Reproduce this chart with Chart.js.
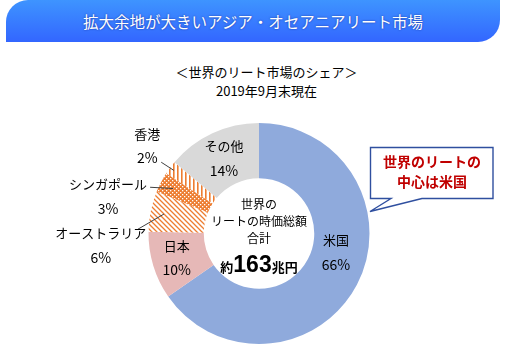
<!DOCTYPE html>
<html><head><meta charset="utf-8">
<script src="https://cdn.jsdelivr.net/npm/chart.js@4/dist/chart.umd.min.js"></script>
<style>
html,body{margin:0;padding:0;background:#fff;}
#wrap{position:relative;width:513px;height:362px;overflow:hidden;font-family:"Noto Sans CJK JP","Noto Sans",sans-serif;}
#banner{position:absolute;left:6px;top:0;width:494px;height:42px;border-radius:22px 0 22px 0;background:linear-gradient(#3e94ff,#3366ff);color:#fff;font-size:15.5px;line-height:42px;text-align:center;text-shadow:0 0 2px rgba(0,0,90,0.6);}
#chart{position:absolute;left:0;top:0;}
.t{position:absolute;white-space:nowrap;color:#000;text-align:center;}
#sub1{left:0;width:533px;top:63px;font-size:13px;line-height:18px;}
#sub2{left:0;width:533px;top:82px;font-size:13px;line-height:18px;}
#ctr{position:absolute;left:200px;width:118px;top:195px;text-align:center;font-size:12px;line-height:17px;color:#000;}
#ctr .big{font-family:"Liberation Sans","DejaVu Sans",sans-serif;font-weight:bold;font-size:23px;}
#ctr .sm{font-weight:bold;font-size:13px;}
#callsvg{position:absolute;left:0;top:0;}
#call{position:absolute;left:371px;width:122px;top:151px;text-align:center;color:#c00000;font-weight:bold;font-size:14px;line-height:20px;}
</style></head>
<body>
<div id="wrap">
<div id="banner">拡大余地が大きいアジア・オセアニアリート市場</div>
<div class="t" id="sub1">＜世界のリート市場のシェア＞</div>
<div class="t" id="sub2">2019年9月末現在</div>
<canvas id="chart" width="513" height="362"></canvas>
<div id="ctr">世界の<br>リートの時価総額<br>合計<div style="margin-top:6px;line-height:24px"><span class="sm">約</span><span class="big">163</span><span class="sm">兆円</span></div></div>
<svg id="callsvg" width="513" height="362"><path d="M370.5 147.5 H493 V198.5 H422 L370 211.5 L391 198.5 H370.5 Z" fill="#fff" stroke="#2f4f9f" stroke-width="1.4"/></svg>
<div id="call">世界のリートの<br>中心は米国</div>
</div>
<script>
const categories = ["米国", "日本", "オーストラリア", "シンガポール", "香港", "その他"];
const shares = [66, 10, 6, 3, 2, 14];
const shareLabels = ["66%", "10%", "6%", "3%", "2%", "14%"];

const ORANGE = '#ed7d31';
function pattern(kind){
  const c = document.createElement('canvas');
  const g = c.getContext('2d');
  if (kind === 'diag') {
    c.width = c.height = 5;
    g.fillStyle = '#fff'; g.fillRect(0,0,5,5);
    g.strokeStyle = ORANGE; g.lineWidth = 1.3;
    g.beginPath();
    g.moveTo(-1,-1); g.lineTo(6,6);
    g.moveTo(-6,-1); g.lineTo(1,6);
    g.moveTo(4,-1); g.lineTo(11,6);
    g.stroke();
  } else if (kind === 'dots') {
    c.width = c.height = 4;
    g.fillStyle = ORANGE; g.fillRect(0,0,4,4);
    g.fillStyle = '#fff';
    g.fillRect(0,0,1.3,1.3);
    g.fillRect(2,2,1.3,1.3);
  } else {
    c.width = c.height = 4;
    g.fillStyle = '#fff'; g.fillRect(0,0,4,4);
    g.fillStyle = ORANGE; g.fillRect(1,0,1.6,4);
  }
  return g.createPattern(c, 'repeat');
}
const fills = ['#8faadc', '#e6b8b7', pattern('diag'), pattern('dots'), pattern('vert'), '#d9d9d9'];

// label placement: inside labels use slice mid-point (mid radius); outside use outer edge
const placement = [
  {mode:'in', dx:3.5, dy:-19.5},
  {mode:'in', dx:-3, dy:0},
  {mode:'out', dx:-50, dy:34, lx:37, ly:-16, lr:97},
  {mode:'out', dx:-53, dy:14, lx:42, ly:-9, lr:97},
  {mode:'out', dx:-23, dy:-22, lx:14, ly:16.5, lr:106},
  {mode:'in', dx:0, dy:0}
];

const labelPlugin = {
  id: 'sliceLabels',
  afterDatasetsDraw(chart){
    const ctx = chart.ctx;
    const meta = chart.getDatasetMeta(0);
    ctx.save();
    meta.data.forEach((arc, i) => {
      const p = placement[i];
      const mid = (arc.startAngle + arc.endAngle) / 2;
      const r = p.mode === 'in' ? (arc.innerRadius + arc.outerRadius) / 2 : arc.outerRadius;
      const bx = arc.x + Math.cos(mid) * r + p.dx;
      const by = arc.y + Math.sin(mid) * r + p.dy;
      if (p.mode === 'out') {
        ctx.strokeStyle = '#404040'; ctx.lineWidth = 1;
        ctx.beginPath();
        ctx.moveTo(bx + p.lx, by + p.ly);
        ctx.lineTo(arc.x + Math.cos(mid) * p.lr, arc.y + Math.sin(mid) * p.lr);
        ctx.stroke();
      }
      ctx.fillStyle = '#000';
      ctx.textAlign = 'center'; ctx.textBaseline = 'middle';
      ctx.font = '13px "Noto Sans CJK JP"';
      ctx.fillText(categories[i], bx, by - 12);
      ctx.font = '14px "Noto Sans CJK JP"';
      ctx.fillText(shareLabels[i], bx, by + 12);
    });
    ctx.restore();
  }
};

new Chart(document.getElementById('chart'), {
  type: 'doughnut',
  data: { labels: categories, datasets: [{ data: shares, backgroundColor: fills, borderWidth: 0 }] },
  options: {
    responsive: false, animation: false, cutout: '50%',
    layout: { padding: { left: 148, right: 143, top: 123, bottom: 18 } },
    plugins: { legend: { display: false }, tooltip: { enabled: false } }
  },
  plugins: [labelPlugin]
});
</script>
</body></html>
